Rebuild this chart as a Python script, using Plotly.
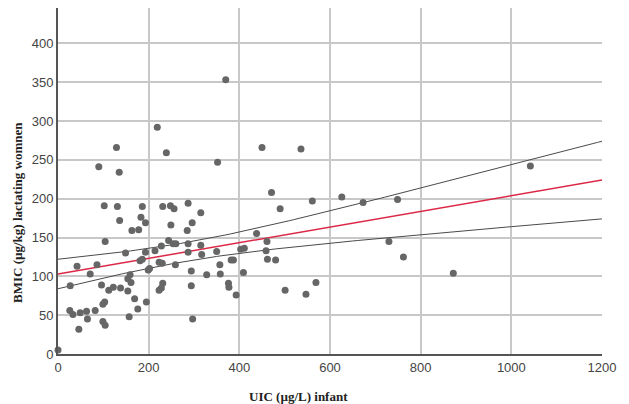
import numpy as np
import plotly.graph_objects as go

# UIC (µg/L) infant
uic = [0, 27, 42, 26, 33, 49, 46, 63, 65, 71, 82, 86, 90, 96, 99, 103, 99, 104,
       102, 104, 112, 122, 129, 131, 135, 136, 138, 149, 154, 154, 159, 161, 163,
       169, 157, 176, 178, 181, 186, 186, 183, 193, 193, 195, 199, 202, 214, 219,
       223, 230, 228, 231, 231, 228, 223, 239, 244, 248, 256, 249, 254, 260, 259,
       287, 285, 296, 287, 287, 294, 294, 297, 315, 315, 317, 328, 350, 352, 357,
       358, 370, 376, 377, 382, 387, 393, 403, 411, 409, 438, 450, 461, 459, 462,
       471, 490, 480, 501, 536, 547, 561, 569, 626, 673, 749, 730, 762, 872, 1042]
# BMIC (µg/kg) lactating women
bmic = [5, 88, 113, 56, 51, 53, 32, 55, 45, 103, 56, 115, 241, 89, 64, 67, 42, 37,
        191, 145, 82, 86, 266, 190, 234, 172, 85, 130, 81, 97, 102, 92, 159,
        71, 48, 58, 160, 120, 122, 190, 176, 169, 131, 67, 108, 110, 133, 292,
        118, 117, 139, 190, 91, 85, 82, 259, 146, 191, 187, 166, 142, 142, 115,
        194, 159, 169, 142, 131, 107, 88, 45, 182, 140, 128, 102, 132, 247, 115,
        103, 353, 91, 86, 121, 121, 76, 135, 136, 105, 155, 266, 145, 133, 122,
        208, 187, 121, 82, 264, 77, 197, 92, 202, 195, 199, 145, 125, 104, 242]

x_ticks = [0, 200, 400, 600, 800, 1000, 1200]
y_ticks = [0, 50, 100, 150, 200, 250, 300, 350, 400]

# fit line and 95% CI band
fit_intercept = 103.0
fit_slope = 0.1008
ci_half_at_0 = 19.0
ci_half_at_1200 = 50.0

x = np.array(uic, float)
xbar = x.mean()
# hyperbolic CI band: hw^2 = a + b (x - xbar)^2, calibrated to the two read widths
b = (ci_half_at_1200 ** 2 - ci_half_at_0 ** 2) / ((1200 - xbar) ** 2 - xbar ** 2)
a = ci_half_at_0 ** 2 - b * xbar ** 2
xs = np.linspace(0, 1200, 121)
yhat = fit_intercept + fit_slope * xs
hw = np.sqrt(a + b * (xs - xbar) ** 2)

fig = go.Figure()
fig.add_trace(go.Scatter(x=xs, y=yhat + hw, mode="lines",
                         line=dict(color="#4a4a4a", width=1), hoverinfo="skip"))
fig.add_trace(go.Scatter(x=xs, y=yhat - hw, mode="lines",
                         line=dict(color="#4a4a4a", width=1), hoverinfo="skip"))
fig.add_trace(go.Scatter(x=xs, y=yhat, mode="lines",
                         line=dict(color="#dc2846", width=1.5), hoverinfo="skip"))
fig.add_trace(go.Scatter(x=uic, y=bmic, mode="markers", cliponaxis=False,
                         marker=dict(color="#666666", size=7, line=dict(width=0))))

fig.update_layout(
    width=629, height=404,
    margin=dict(l=58, r=27, t=8, b=50),
    paper_bgcolor="white", plot_bgcolor="white",
    showlegend=False,
    font=dict(family="Liberation Sans, Arial, sans-serif", size=13, color="#444444"),
)
fig.update_xaxes(range=[0, 1200], tickvals=x_ticks, ticktext=[str(v) for v in x_ticks],
                 showgrid=True, gridcolor="#c8c8c8", gridwidth=1.5,
                 showline=True, linecolor="#555555", linewidth=2, zeroline=False,
                 ticks="", ticklen=0)
fig.update_yaxes(range=[0, 445.5], tickvals=y_ticks, ticktext=[str(v) for v in y_ticks],
                 showgrid=True, gridcolor="#c8c8c8", gridwidth=1.5,
                 showline=True, linecolor="#555555", linewidth=2, zeroline=False,
                 ticks="", ticklen=0)

fig.add_annotation(text="<b>UIC (µg/L) infant</b>", xref="paper", yref="paper",
                   x=(298 - 58) / 543.7, y=-42 / 346, xanchor="center", yanchor="middle",
                   showarrow=False,
                   font=dict(family="Liberation Serif, Times New Roman, serif", size=13, color="#222222"))
fig.add_annotation(text="<b>BMIC (µg/kg) lactating womnen</b>", xref="paper", yref="paper",
                   x=-41 / 543.7, y=(354 - 212) / 346, xanchor="center", yanchor="middle",
                   textangle=-90, showarrow=False,
                   font=dict(family="Liberation Serif, Times New Roman, serif", size=13, color="#222222"))

fig.write_html("out.html")
